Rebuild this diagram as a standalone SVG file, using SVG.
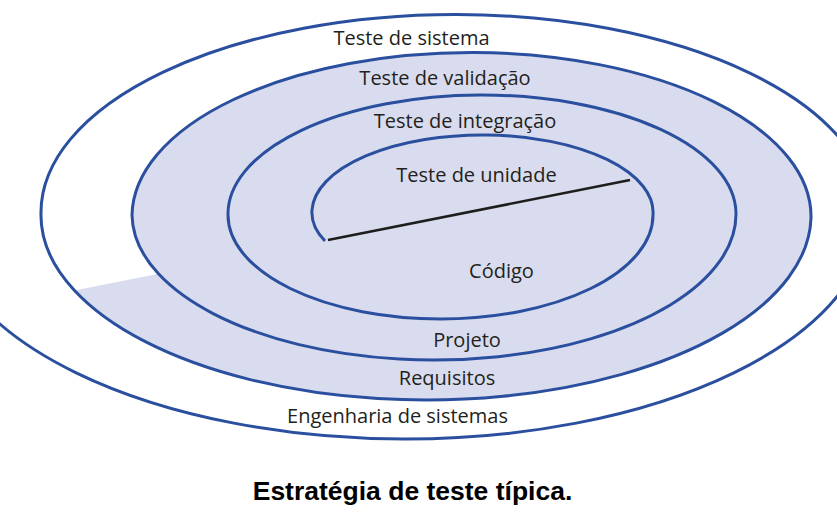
<svg xmlns="http://www.w3.org/2000/svg" width="837" height="518" viewBox="0 0 837 518">
  <style>
    .lbl { font-family: "Open Sans", "Noto Sans", "DejaVu Sans", sans-serif; font-size: 20px; fill: #231f20; text-anchor: middle; }
    .cap { font-family: "Liberation Sans", Arial, sans-serif; font-size: 26.5px; font-weight: bold; fill: #000000; text-anchor: middle; }
    .spiral { fill: none; stroke: #2b4f9f; stroke-width: 3; stroke-linecap: butt; }
    .shade { fill: #d9dcee; stroke: none; }
    .radius { stroke: #1d1d1b; stroke-width: 2.6; fill: none; }
  </style>
  <rect x="0" y="0" width="837" height="518" fill="#ffffff"/>
  <g id="shading">
    <path class="shade" d="M 158.5 273.8 A 302 146 0 0 1 132 215 A 339.5 164 0 0 1 811 218 A 385 185 0 0 1 74.5 290.5 Z"/>
  </g>
  <g id="connectors">
    <path id="spiral" class="spiral" d="M 325 241 A 130 65 0 0 1 312 210 A 170.5 77.5 0 0 1 653 215 A 212.5 104 0 0 1 228 215 A 254 119 0 0 1 736 213 A 302 146 0 0 1 158.5 273.8 A 302 146 0 0 1 132 215 A 339.5 164 0 0 1 811 218 A 385 185 0 0 1 74.5 290.5 A 385 185 0 0 1 41 212 A 414.5 198 0 0 1 870 213 A 465 226 0 0 1 -60 213"/>
    <path id="radius" class="radius" d="M 328 240 L 630 180"/>
  </g>
  <g id="label-teste-sistema"><text class="lbl" x="411.5" y="45">Teste de sistema</text></g>
  <g id="label-teste-validacao"><text class="lbl" x="445" y="85">Teste de validação</text></g>
  <g id="label-teste-integracao"><text class="lbl" x="465" y="128">Teste de integração</text></g>
  <g id="label-teste-unidade"><text class="lbl" x="476.5" y="182">Teste de unidade</text></g>
  <g id="label-codigo"><text class="lbl" x="501.5" y="278">Código</text></g>
  <g id="label-projeto"><text class="lbl" x="467" y="347">Projeto</text></g>
  <g id="label-requisitos"><text class="lbl" x="447" y="385">Requisitos</text></g>
  <g id="label-engenharia"><text class="lbl" x="397.5" y="423">Engenharia de sistemas</text></g>
  <g id="caption"><text class="cap" x="412.5" y="500">Estratégia de teste típica.</text></g>
</svg>
